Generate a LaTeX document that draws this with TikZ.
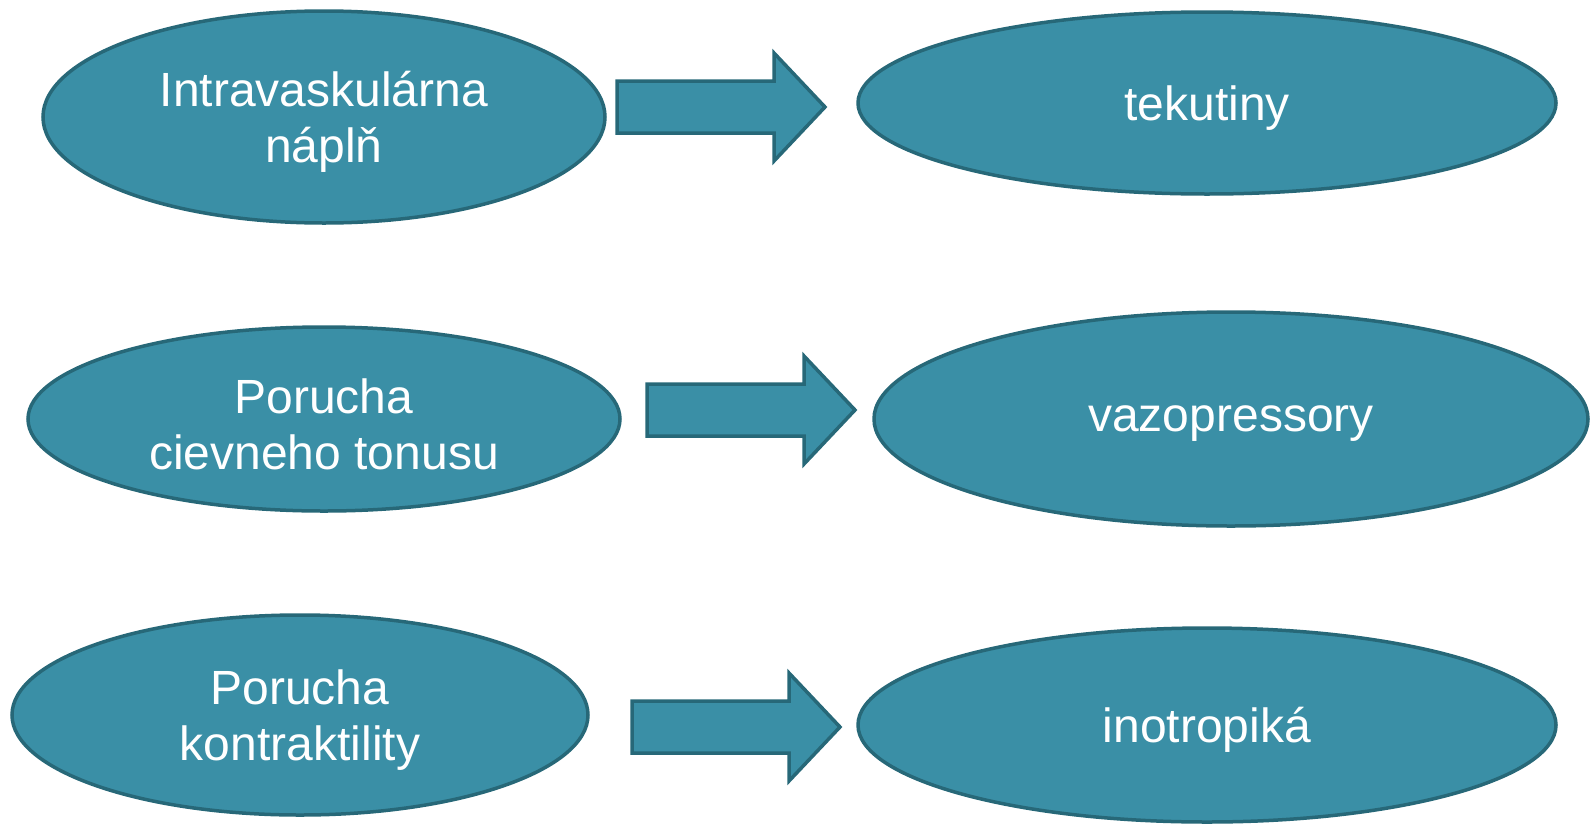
\documentclass[tikz,border=0pt]{standalone}
\usepackage{fontspec}
\setmainfont{Liberation Sans}
\usetikzlibrary{shapes.geometric}
\definecolor{tealfill}{RGB}{58,143,166}
\definecolor{tealline}{RGB}{39,104,120}
\newcommand{\blockarr}[2]{%
  \draw[blockarrow,shift={(#1,#2)}] (0,-26) -- (157,-26) -- (157,-54) -- (208,0) -- (157,54) -- (157,26) -- (0,26) -- cycle;}

\begin{document}
\begin{tikzpicture}[x=1pt,y=-1pt,line join=miter,
    oval/.style={ellipse,draw=tealline,fill=tealfill,line width=3.5pt,inner sep=0pt},
    ovaltext/.style={text=white,align=center,yshift=-5pt,font=\fontsize{48}{56}\selectfont},
    blockarrow/.style={draw=tealline,fill=tealfill,line width=3.5pt}]
        \useasboundingbox (0,0) rectangle (1596,825);
        % left column
        \node[oval,minimum width=562,minimum height=212,label={[ovaltext]center:{Intravaskulárna\\náplň}}] (fill) at (324,117) {};
        \node[oval,minimum width=592,minimum height=184,label={[ovaltext]center:{Porucha\\cievneho tonusu}}] (tone) at (324,419) {};
        \node[oval,minimum width=576,minimum height=200,label={[ovaltext]center:{Porucha\\kontraktility}}] (contr) at (300,715) {};
        % right column
        \node[oval,minimum width=698,minimum height=182,label={[ovaltext]center:tekutiny}] (fluids) at (1207,103) {};
        \node[oval,minimum width=714,minimum height=214,label={[ovaltext]center:vazopressory}] (vaso) at (1231,419) {};
        \node[oval,minimum width=698,minimum height=194,label={[ovaltext]center:inotropiká}] (ino) at (1207,725) {};
        % arrows
        \blockarr{617}{107}
        \blockarr{647}{410}
        \blockarr{632}{727}
\end{tikzpicture}
\end{document}
